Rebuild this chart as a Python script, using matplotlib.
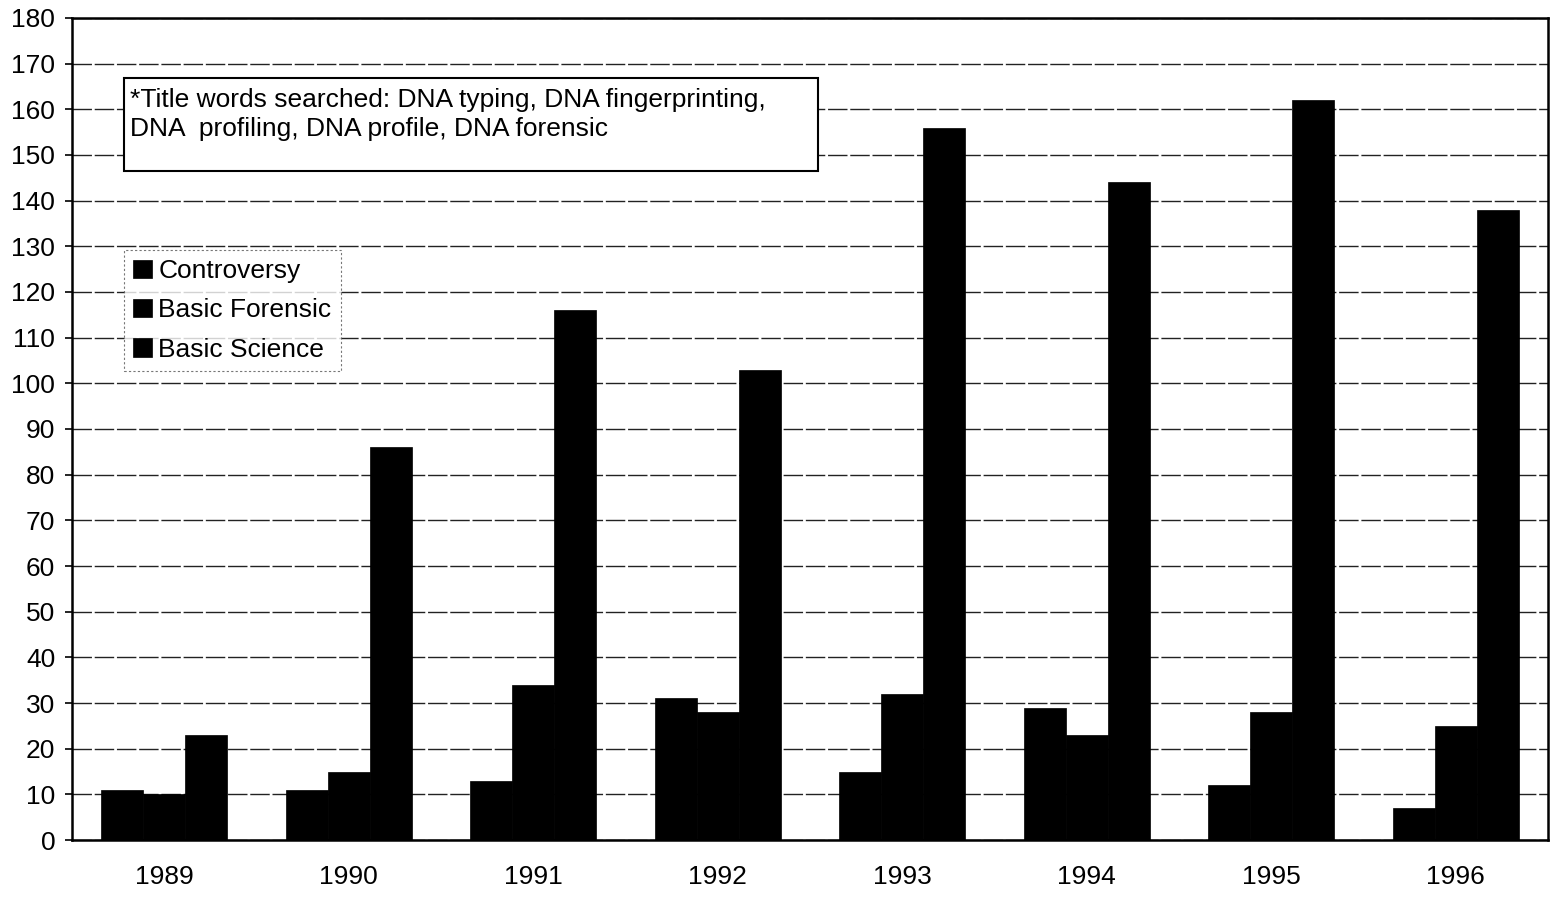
import matplotlib
matplotlib.use('Agg')
import numpy as np
import matplotlib.pyplot as plt
from matplotlib.patches import Rectangle

years = ['1989', '1990', '1991', '1992', '1993', '1994', '1995', '1996']
controversy = [11, 11, 13, 31, 15, 29, 12, 7]
basic_forensic = [10, 15, 34, 28, 32, 23, 28, 25]
basic_science = [23, 86, 116, 103, 156, 144, 162, 138]
series_names = ['Controversy', 'Basic Forensic', 'Basic Science']
note = ('*Title words searched: DNA typing, DNA fingerprinting,\n'
        'DNA  profiling, DNA profile, DNA forensic')

plt.rcParams['font.family'] = ['Liberation Sans', 'DejaVu Sans']

fig = plt.figure(figsize=(15.54, 8.97), dpi=100)
ax = fig.add_axes([0.0463, 0.0635, 0.9498, 0.9165])

x = np.arange(len(years)) + 0.5
w = 0.228
handles = []
for i, vals in enumerate([controversy, basic_forensic, basic_science]):
    b = ax.bar(x + (i - 1) * w, vals, width=w, color='black',
               edgecolor='black', linewidth=0.5, label=series_names[i], zorder=3)
    handles.append(b)

ax.set_xlim(0, len(years))
ax.set_ylim(0, 180)
ax.set_yticks(np.arange(0, 181, 10))
ax.set_xticks(x)
ax.set_xticklabels(years)
ax.tick_params(axis='y', labelsize=19, length=5, width=1.2, pad=7, direction='out')
ax.tick_params(axis='x', labelsize=19, length=0, pad=18)

ax.yaxis.grid(True, color='#222222', linestyle=(0, (14, 2)), linewidth=1.0, zorder=0)
for s in ax.spines.values():
    s.set_linewidth(1.8)
    s.set_color('black')

# note box
ax.add_patch(Rectangle((0.0352, 0.814), 0.4702, 0.113, transform=ax.transAxes,
                       facecolor='white', edgecolor='black', linewidth=1.5, zorder=5))
ax.text(0.039, 0.915, note, transform=ax.transAxes, fontsize=19, va='top',
        ha='left', linespacing=1.28, zorder=6)

leg = ax.legend(handles=handles, loc='upper left', bbox_to_anchor=(0.0352, 0.718),
                fontsize=19, frameon=True, fancybox=False, handlelength=0.7,
                handleheight=0.7, handletextpad=0.25, labelspacing=0.58,
                borderpad=0.35, borderaxespad=0)
leg.get_frame().set_edgecolor('#555555')
leg.get_frame().set_linestyle((0, (2, 2)))
leg.get_frame().set_linewidth(0.8)
leg.set_zorder(6)

fig.savefig('out.png', dpi=100)
